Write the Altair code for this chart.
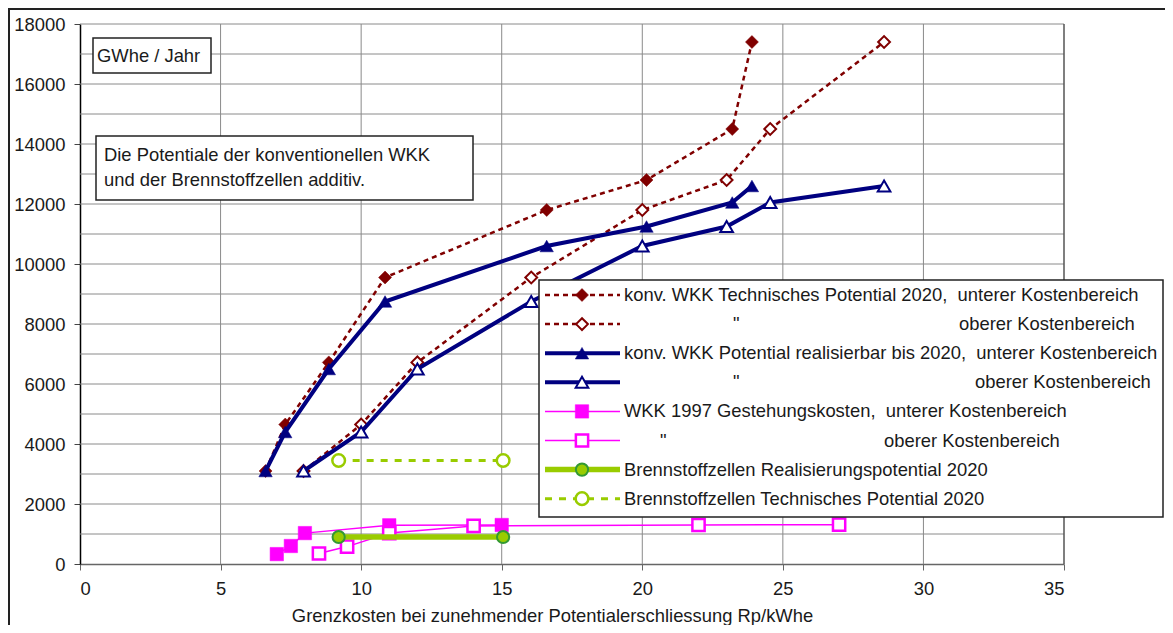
import altair as alt
import pandas as pd

# ---------------- data ----------------
tech_low_x = [6.6, 7.3, 8.85, 10.85, 16.6, 20.15, 23.2, 23.9]
tech_low_y = [3100, 4650, 6720, 9550, 11800, 12800, 14500, 17400]
tech_high_x = [7.95, 10.0, 12.0, 16.05, 20.0, 23.0, 24.55, 28.6]
tech_high_y = [3100, 4650, 6720, 9550, 11800, 12800, 14500, 17400]
real_low_x = [6.6, 7.3, 8.85, 10.85, 16.6, 20.15, 23.2, 23.9]
real_low_y = [3100, 4400, 6500, 8750, 10600, 11250, 12050, 12600]
real_high_x = [7.95, 10.0, 12.0, 16.05, 20.0, 23.0, 24.55, 28.6]
real_high_y = [3100, 4400, 6500, 8750, 10600, 11250, 12050, 12600]
wkk97_low_x = [7.0, 7.5, 8.0, 11.0, 15.0]
wkk97_low_y = [330, 600, 1030, 1290, 1300]
wkk97_high_x = [8.5, 9.5, 11.0, 14.0, 22.0, 27.0]
wkk97_high_y = [350, 580, 1030, 1270, 1300, 1310]
bz_real_x = [9.2, 15.05]
bz_real_y = [900, 900]
bz_tech_x = [9.2, 15.05]
bz_tech_y = [3450, 3450]

y_ticks = [0, 2000, 4000, 6000, 8000, 10000, 12000, 14000, 16000, 18000]
y_grid = [1000, 2000, 3000, 4000, 5000, 6000, 7000, 8000, 9000, 10000,
          11000, 12000, 13000, 14000, 15000, 16000, 17000, 18000]
x_ticks = [0, 5, 10, 15, 20, 25, 30, 35]
x_grid = [5, 10, 15, 20, 25, 30]
x_border = [35]

x_title = "Grenzkosten bei zunehmender Potentialerschliessung Rp/kWhe"
unit_label = "GWhe / Jahr"
note_lines = ["Die Potentiale der konventionellen WKK",
              "und der Brennstoffzellen additiv."]

NB = "\u00a0"
legend_main = [
    "konv. WKK Technisches Potential 2020," + NB + " unterer Kostenbereich",
    '"',
    "konv. WKK Potential realisierbar bis 2020," + NB + " unterer Kostenbereich",
    '"',
    "WKK 1997 Gestehungskosten," + NB + " unterer Kostenbereich",
    '"',
    "Brennstoffzellen Realisierungspotential 2020",
    "Brennstoffzellen Technisches Potential 2020",
]
legend_extra = ["", "oberer Kostenbereich", "", "oberer Kostenbereich",
                "", "oberer Kostenbereich", "", ""]

# ---------------- styling ----------------
FONT = "Liberation Sans"
FS = 18.4
TXT = "#1a1a1a"
RED = "#800000"
NAVY = "#000080"
MAG = "#FF00FF"
LGREEN = "#99CC00"
DGREEN = "#339933"
GRID = "#8a8a8a"

W, H = 984, 540

xscale = alt.Scale(domain=[0, 35], nice=False, zero=True)
yscale = alt.Scale(domain=[0, 18000], nice=False, zero=True)
xaxis = alt.Axis(values=x_ticks, grid=False, tickSize=6, labelPadding=9,
                 domainColor="#666", domainWidth=1.5, tickColor="#666",
                 title=x_title, titleFont=FONT, titleFontSize=FS,
                 titleFontWeight="normal", titleColor=TXT,
                 titleX=472, titleY=51, titleBaseline="middle", titleAlign="center",
                 labelFont=FONT, labelFontSize=FS, labelColor=TXT, format="d")
yaxis = alt.Axis(values=y_ticks, grid=False, tickSize=6, labelPadding=9,
                 domainColor="#000", domainWidth=1.5, tickColor="#444",
                 title=None, labelFont=FONT, labelFontSize=FS, labelColor=TXT,
                 format="d")

X = alt.X("x:Q", scale=xscale, axis=xaxis)
Y = alt.Y("y:Q", scale=yscale, axis=yaxis)

layers = []

# gridlines
layers.append(alt.Chart(pd.DataFrame({"y": y_grid})).mark_rule(
    color=GRID, strokeWidth=1).encode(y=Y))
layers.append(alt.Chart(pd.DataFrame({"x": x_grid})).mark_rule(
    color=GRID, strokeWidth=1).encode(x=X))
layers.append(alt.Chart(pd.DataFrame({"x": x_border})).mark_rule(
    color="#555", strokeWidth=1.5).encode(x=X))

dummy = pd.DataFrame({"_": [0]})


def box(x1, x2, y1, y2, sw=1.5, stroke="#222"):
    return alt.Chart(dummy).mark_rect(fill="white", stroke=stroke, strokeWidth=sw).encode(
        x=alt.value(x1), x2=alt.value(x2), y=alt.value(y1), y2=alt.value(y2))


def text(t, x, y, align="left"):
    return alt.Chart(dummy).mark_text(text=t, font=FONT, fontSize=FS, color=TXT,
                                      align=align, baseline="middle").encode(
        x=alt.value(x), y=alt.value(y))


# annotation boxes
layers.append(box(13, 131, 14, 49))
layers.append(text(unit_label, 17, 32))
layers.append(box(16, 393, 112, 176))
layers.append(text(note_lines[0], 24, 131))
layers.append(text(note_lines[1], 24, 156))

# series styles
series = [
    (tech_low_x, tech_low_y, dict(color=RED, strokeWidth=2.5, strokeDash=[5, 4]),
     dict(shape="diamond", size=169, filled=True, fill=RED, stroke=RED, strokeWidth=0.5)),
    (tech_high_x, tech_high_y, dict(color=RED, strokeWidth=2.5, strokeDash=[5, 4]),
     dict(shape="diamond", size=140, filled=True, fill="white", stroke=RED, strokeWidth=2)),
    (real_low_x, real_low_y, dict(color=NAVY, strokeWidth=4),
     dict(shape="triangle-up", size=180, filled=True, fill=NAVY, stroke=NAVY, strokeWidth=0.5)),
    (real_high_x, real_high_y, dict(color=NAVY, strokeWidth=4),
     dict(shape="triangle-up", size=160, filled=True, fill="white", stroke=NAVY, strokeWidth=2)),
    (wkk97_low_x, wkk97_low_y, dict(color=MAG, strokeWidth=1.5),
     dict(shape="square", size=180, filled=True, fill=MAG, stroke=MAG, strokeWidth=0.5)),
    (wkk97_high_x, wkk97_high_y, dict(color=MAG, strokeWidth=1.5),
     dict(shape="square", size=150, filled=True, fill="white", stroke=MAG, strokeWidth=2.5)),
    (bz_real_x, bz_real_y, dict(color=LGREEN, strokeWidth=5.5),
     dict(shape="circle", size=150, filled=True, fill=LGREEN, stroke=DGREEN, strokeWidth=2)),
    (bz_tech_x, bz_tech_y, dict(color=LGREEN, strokeWidth=3, strokeDash=[7, 7]),
     dict(shape="circle", size=160, filled=True, fill="white", stroke=LGREEN, strokeWidth=2.5)),
]

for xs, ys, lstyle, pstyle in series:
    df = pd.DataFrame({"x": xs, "y": ys})
    base = alt.Chart(df)
    layers.append(base.mark_line(**lstyle).encode(x=X, y=Y))
    layers.append(base.mark_point(opacity=1, **pstyle).encode(x=X, y=Y))

# legend
layers.append(box(459, 1083, 256, 493))
row_y = [271 + 29.1 * i for i in range(8)]
extra_x = [None, 879, None, 895, None, 804, None, None]
quote_x = [None, 653, None, 653, None, 580, None, None]
for i, (xs, ys, lstyle, pstyle) in enumerate(series):
    yy = row_y[i]
    layers.append(alt.Chart(dummy).mark_rule(**lstyle).encode(
        x=alt.value(465), x2=alt.value(540), y=alt.value(yy)))
    layers.append(alt.Chart(dummy).mark_point(opacity=1, **pstyle).encode(
        x=alt.value(502), y=alt.value(yy)))
    if quote_x[i] is None:
        layers.append(text(legend_main[i], 544, yy))
    else:
        layers.append(text(legend_main[i], quote_x[i], yy))
        layers.append(text(legend_extra[i], extra_x[i], yy))

# outer frame (top and left)
layers.append(alt.Chart(dummy).mark_rule(color="#222", strokeWidth=2).encode(
    x=alt.value(-72), x2=alt.value(1085), y=alt.value(-15)))
layers.append(alt.Chart(dummy).mark_rule(color="#222", strokeWidth=2).encode(
    x=alt.value(-71), y=alt.value(-16), y2=alt.value(601)))

chart = alt.layer(*layers).properties(
    width=W, height=H,
    autosize=alt.AutoSizeParams(type="none"),
    padding={"left": 72, "top": 16, "right": 101, "bottom": 61},
    background="white",
).configure_view(strokeWidth=0)

chart.save("out.html", embed_options={"renderer": "svg", "actions": False})
